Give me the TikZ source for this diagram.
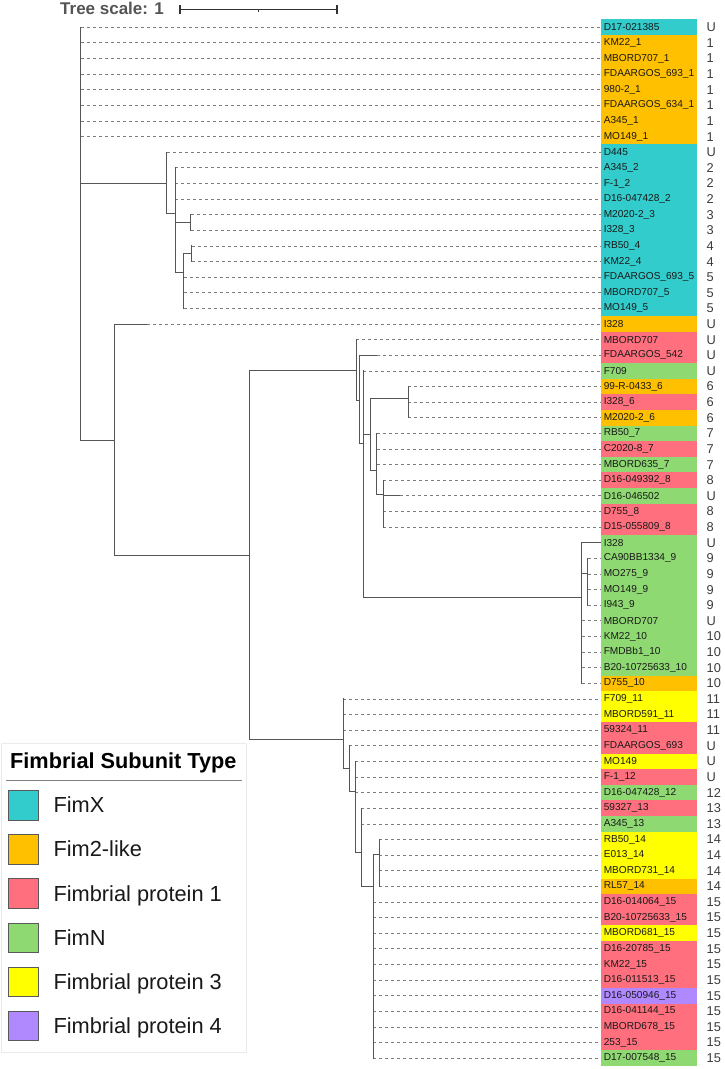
\documentclass[tikz,border=0pt]{standalone}
\usepackage{fontspec}
\setmainfont{Liberation Sans}
\definecolor{cX}{RGB}{51,204,204}
\definecolor{cF}{RGB}{255,192,0}
\definecolor{cP}{RGB}{255,111,125}
\definecolor{cN}{RGB}{143,217,115}
\definecolor{cY}{RGB}{255,255,0}
\definecolor{cV}{RGB}{176,136,255}
\definecolor{treegray}{RGB}{85,85,85}
\definecolor{dashgray}{RGB}{125,125,125}
\definecolor{txt}{RGB}{25,25,25}
\tikzset{
  branch/.style={draw=treegray,line width=1pt,line cap=rect},
  dashline/.style={draw=dashgray,line width=0.85pt,dash pattern=on 3pt off 3pt},
  leaflabel/.style={anchor=west,inner xsep=2.6pt,inner ysep=0pt,font=\fontsize{10.1}{12}\selectfont,text=txt},
  numlabel/.style={anchor=west,inner sep=0pt,font=\fontsize{12.8}{14}\selectfont,text=txt!85},
  legtext/.style={anchor=base west,inner sep=0pt,font=\fontsize{21.8}{24}\selectfont,text=txt},
  swatch/.style={draw=black!65,line width=0.8pt,minimum width=30pt,minimum height=29.3pt,inner sep=0pt}
}
\begin{document}
\begin{tikzpicture}[x=1pt,y=-1pt]
\useasboundingbox (0,0) rectangle (724,1069);
% tree scale
\node[anchor=base west,inner sep=0pt,font=\bfseries\fontsize{17}{20}\selectfont,text=black!67] (ts) at (60,14.5) {Tree scale: 1};
\coordinate (sb1) at (180,9.3);
\coordinate (sb2) at (337,9.3);
\coordinate (sbm) at (258.5,9.3);
\draw[draw=black!80,line width=1.2pt] (sb1) -- (sb2);
\draw[draw=black!80,line width=1.2pt] ([yshift=-4.6pt]sb1) -- ([yshift=4.6pt]sb1);
\draw[draw=black!80,line width=1.2pt] ([yshift=-4.6pt]sb2) -- ([yshift=4.6pt]sb2);
\draw[draw=black!80,line width=1.2pt] (sbm) -- ([yshift=-2.8pt]sbm);
% leaves
\foreach \i/\name/\col/\num/\xs/\xd in {
1/D17-021385/cX/U/80.7/80.7,
2/KM22\_1/cF/1/80.7/80.7,
3/MBORD707\_1/cF/1/80.7/80.7,
4/FDAARGOS\_693\_1/cF/1/80.7/80.7,
5/980-2\_1/cF/1/80.7/80.7,
6/FDAARGOS\_634\_1/cF/1/80.7/80.7,
7/A345\_1/cF/1/80.7/80.7,
8/MO149\_1/cF/1/80.7/80.7,
9/D445/cX/U/166.7/166.7,
10/A345\_2/cX/2/175/175,
11/F-1\_2/cX/2/175/175,
12/D16-047428\_2/cX/2/175/175,
13/M2020-2\_3/cX/3/190.7/190.7,
14/I328\_3/cX/3/190.7/190.7,
15/RB50\_4/cX/4/191.7/191.7,
16/KM22\_4/cX/4/191.7/191.7,
17/FDAARGOS\_693\_5/cX/5/183.7/183.7,
18/MBORD707\_5/cX/5/183.7/183.7,
19/MO149\_5/cX/5/183.7/183.7,
20/I328/cF/U/114.3/147,
21/MBORD707/cP/U/356/356,
22/FDAARGOS\_542/cP/U/359.3/377,
23/F709/cN/U/363.3/363.3,
24/99-R-0433\_6/cF/6/408/408,
25/I328\_6/cP/6/408/408,
26/M2020-2\_6/cF/6/408/408,
27/RB50\_7/cN/7/376.7/376.7,
28/C2020-8\_7/cP/7/376.7/376.7,
29/MBORD635\_7/cN/7/376.7/376.7,
30/D16-049392\_8/cP/8/383.3/383.3,
31/D16-046502/cN/U/383.3/400,
32/D755\_8/cP/8/383.3/383.3,
33/D15-055809\_8/cP/8/383.3/383.3,
34/I328/cN/U/581.7/601,
35/CA90BB1334\_9/cN/9/587.7/587.7,
36/MO275\_9/cN/9/587.7/587.7,
37/MO149\_9/cN/9/587.7/587.7,
38/I943\_9/cN/9/587.7/587.7,
39/MBORD707/cN/U/581.7/581.7,
40/KM22\_10/cN/10/581.7/581.7,
41/FMDBb1\_10/cN/10/581.7/581.7,
42/B20-10725633\_10/cN/10/581.7/581.7,
43/D755\_10/cF/10/581.7/581.7,
44/F709\_11/cY/11/343.3/343.3,
45/MBORD591\_11/cY/11/343.3/343.3,
46/59324\_11/cP/11/343.3/343.3,
47/FDAARGOS\_693/cP/U/349/349,
48/MO149/cY/U/355/355,
49/F-1\_12/cP/U/355/355,
50/D16-047428\_12/cN/12/355/355,
51/59327\_13/cP/13/361/361,
52/A345\_13/cN/13/361/361,
53/RB50\_14/cY/14/379/379,
54/E013\_14/cY/14/379/379,
55/MBORD731\_14/cY/14/379/379,
56/RL57\_14/cF/14/379/379,
57/D16-014064\_15/cP/15/373/373,
58/B20-10725633\_15/cP/15/373/373,
59/MBORD681\_15/cY/15/373/373,
60/D16-20785\_15/cP/15/373/373,
61/KM22\_15/cP/15/373/373,
62/D16-011513\_15/cP/15/373/373,
63/D16-050946\_15/cV/15/373/373,
64/D16-041144\_15/cP/15/373/373,
65/MBORD678\_15/cP/15/373/373,
66/253\_15/cP/15/373/373,
67/D17-007548\_15/cN/15/373/373}{
  \pgfmathsetmacro\yy{27.3+(\i-1)*15.62}
  \fill[\col] (601,\yy-7.82) rectangle (697,\yy+7.82);
  \node[leaflabel] (L\i) at (601,\yy) {\name};
  \node[numlabel] (U\i) at (706.5,\yy) {\num};
  \coordinate (S\i) at (\xs,\yy);
  \coordinate (D\i) at (\xd,\yy);
  \draw[dashline] (D\i) -- (L\i.west);
  \draw[branch,line cap=butt] (S\i) -- (D\i);
}
% internal nodes (x, join y)
\coordinate (nR) at (80.7,233);
\coordinate (nA) at (166.7,183.3);
\coordinate (nA1) at (175,213.3);
\coordinate (nA11) at (190.7,222.5);
\coordinate (nA12) at (183.7,272.3);
\coordinate (nA121) at (191.7,253.8);
\coordinate (nB) at (114.3,440);
\coordinate (nB1) at (249,555);
\coordinate (nB11) at (356,370);
\coordinate (nB111) at (359.3,400);
\coordinate (nB1111) at (363.3,443.3);
\coordinate (nB5) at (370,434.3);
\coordinate (nC6) at (408,398.3);
\coordinate (nC7) at (376.7,470);
\coordinate (nC8) at (383.3,494);
\coordinate (nC9) at (581.7,597);
\coordinate (nC9a) at (587.7,573.3);
\coordinate (nB12) at (343.3,739.3);
\coordinate (nB121) at (349,768);
\coordinate (nB1211) at (355,791);
\coordinate (nB12111) at (361,852);
\coordinate (nB6) at (373,886);
\coordinate (nC14) at (379,854);
% root
\draw[branch] (nR |- S1) -- (nR |- nB);
% clade A
\draw[branch] (nR |- nA) -- (nA);
\draw[branch] (nA |- S9) -- (nA |- nA1);
\draw[branch] (nA |- nA1) -- (nA1);
\draw[branch] (nA1 |- S10) -- (nA1 |- nA12);
\draw[branch] (nA1 |- nA11) -- (nA11);
\draw[branch] (nA11 |- S13) -- (nA11 |- S14);
\draw[branch] (nA1 |- nA12) -- (nA12);
\draw[branch] (nA12 |- nA121) -- (nA12 |- S19);
\draw[branch] (nA12 |- nA121) -- (nA121);
\draw[branch] (nA121 |- S15) -- (nA121 |- S16);
% clade B
\draw[branch] (nR |- nB) -- (nB);
\draw[branch] (nB |- S20) -- (nB |- nB1);
\draw[branch] (nB |- nB1) -- (nB1);
\draw[branch] (nB1 |- nB11) -- (nB1 |- nB12);
\draw[branch] (nB1 |- nB11) -- (nB11);
\draw[branch] (nB11 |- S21) -- (nB11 |- nB111);
\draw[branch] (nB11 |- nB111) -- (nB111);
\draw[branch] (nB111 |- S22) -- (nB111 |- nB1111);
\draw[branch] (nB111 |- nB1111) -- (nB1111);
\draw[branch] (nB1111 |- S23) -- (nB1111 |- nC9);
\draw[branch] (nB1111 |- nB5) -- (nB5);
\draw[branch] (nB5 |- nC6) -- (nB5 |- nC7);
\draw[branch] (nB5 |- nC6) -- (nC6);
\draw[branch] (nC6 |- S24) -- (nC6 |- S26);
\draw[branch] (nB5 |- nC7) -- (nC7);
\draw[branch] (nC7 |- S27) -- (nC7 |- nC8);
\draw[branch] (nC7 |- nC8) -- (nC8);
\draw[branch] (nC8 |- S30) -- (nC8 |- S33);
\draw[branch] (nB1111 |- nC9) -- (nC9);
\draw[branch] (nC9 |- S34) -- (nC9 |- S43);
\draw[branch] (nC9 |- nC9a) -- (nC9a);
\draw[branch] (nC9a |- S35) -- (nC9a |- S38);
\draw[branch] (nB1 |- nB12) -- (nB12);
\draw[branch] (nB12 |- S44) -- (nB12 |- nB121);
\draw[branch] (nB12 |- nB121) -- (nB121);
\draw[branch] (nB121 |- S47) -- (nB121 |- nB1211);
\draw[branch] (nB121 |- nB1211) -- (nB1211);
\draw[branch] (nB1211 |- S48) -- (nB1211 |- nB12111);
\draw[branch] (nB1211 |- nB12111) -- (nB12111);
\draw[branch] (nB12111 |- S51) -- (nB12111 |- nB6);
\draw[branch] (nB12111 |- nB6) -- (nB6);
\draw[branch] (nB6 |- nC14) -- (nB6 |- S67);
\draw[branch] (nB6 |- nC14) -- (nC14);
\draw[branch] (nC14 |- S53) -- (nC14 |- S56);
% legend
\draw[draw=black!8,fill=white,line width=0.8pt] (1.7,743.3) rectangle (246.7,1052.7);
\node[anchor=base west,inner sep=0pt,font=\bfseries\fontsize{21.7}{24}\selectfont,text=black] (lt) at (10,768) {Fimbrial Subunit Type};
\draw[draw=black!50,line width=1pt] (6,780) -- (241.7,780);
\foreach \k/\c/\t in {0/cX/FimX,1/cF/Fim2-like,2/cP/Fimbrial protein 1,3/cN/FimN,4/cY/Fimbrial protein 3,5/cV/Fimbrial protein 4}{
  \pgfmathsetmacro\cy{805.3+\k*44.1}
  \node[swatch,fill=\c] (sw\k) at (23.3,\cy) {};
  \node[legtext] (lg\k) at (53.3,\cy+7.5) {\t};
}
\end{tikzpicture}
\end{document}
